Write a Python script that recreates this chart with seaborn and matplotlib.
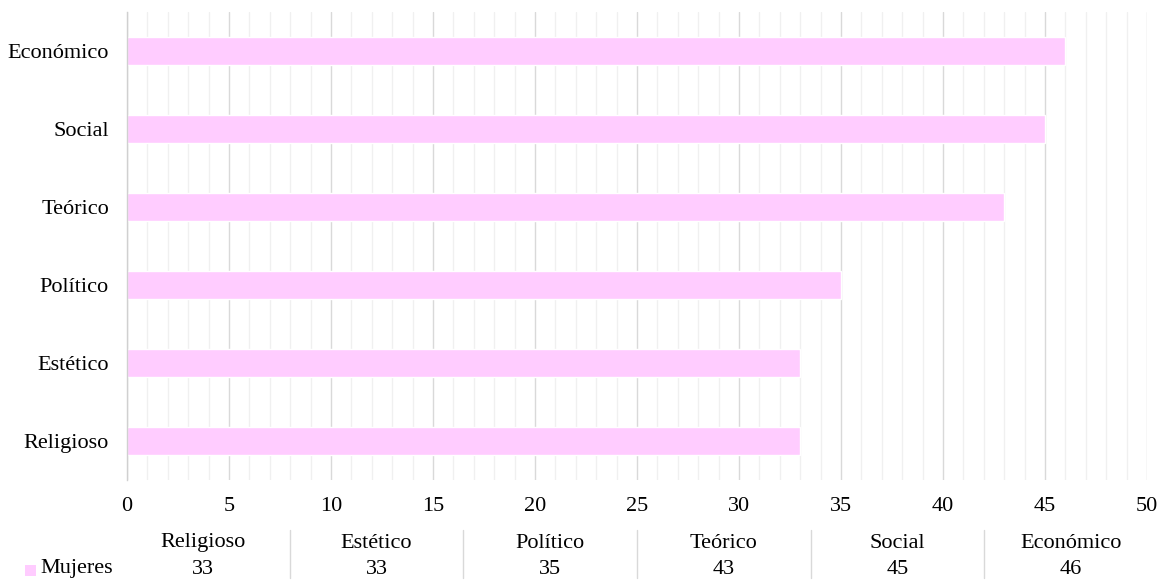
import matplotlib
matplotlib.use("Agg")
import matplotlib.pyplot as plt
import seaborn as sns
import pandas as pd
from matplotlib.lines import Line2D
from matplotlib.patches import Rectangle

categories = ["Religioso", "Estético", "Político", "Teórico", "Social", "Económico"]
mujeres = [33, 33, 35, 43, 45, 46]
series_name = "Mujeres"
x_ticks = [0, 5, 10, 15, 20, 25, 30, 35, 40, 45, 50]

sns.set_theme(style="white")
plt.rcParams["font.family"] = ["Liberation Serif", "DejaVu Serif"]
plt.rcParams["text.color"] = "black"

df = pd.DataFrame({"cat": categories, "val": mujeres})
color = "#FFCCFF"
FS = 16

fig = plt.figure(figsize=(11.63, 5.8), dpi=100)
ax = fig.add_axes([127/1163, 1-480/580, (1147-127)/1163, (480-12)/580])

sns.barplot(data=df, y="cat", x="val", order=categories[::-1], color=color,
            width=0.36, orient="h", ax=ax, saturation=1)

ax.set_xlim(0, 50)
ax.set_ylim(5.5, -0.5)
ax.set_xticks(x_ticks)
ax.set_xticks(range(0, 51), minor=True)
ax.grid(axis="x", which="major", color="#d9d9d9", linewidth=1.0)
ax.grid(axis="x", which="minor", color="#f0f0f0", linewidth=1.0)
ax.set_axisbelow(True)
ax.tick_params(axis="both", which="both", length=0, labelsize=FS, colors="black")
ax.tick_params(axis="x", pad=12)
ax.tick_params(axis="y", pad=13)
ax.set_xlabel("")
ax.set_ylabel("")
for s in ["top", "right", "bottom"]:
    ax.spines[s].set_visible(False)
ax.spines["left"].set_color("#d0d0d0")
ax.spines["left"].set_linewidth(1.0)

# data table below
W, H = 1163, 580
col_left = 116
col_w = (1158 - 116) / len(categories)
for i, (c, v) in enumerate(zip(categories, mujeres)):
    cx = col_left + col_w * (i + 0.5)
    fig.text(cx / W, 1 - 543 / H, c, ha="center", va="center", fontsize=FS, color="black")
    fig.text(cx / W, 1 - 569 / H, str(v), ha="center", va="center", fontsize=FS, color="black")
    if i > 0:
        xs = (col_left + col_w * i) / W
        fig.add_artist(Line2D([xs, xs], [1 - 530 / H, 1 - 578 / H], color="#d9d9d9", linewidth=1.0,
                              transform=fig.transFigure))
fig.add_artist(Rectangle((25 / W, 1 - 576 / H), 11 / W, 11 / H, facecolor=color, edgecolor="none",
                         transform=fig.transFigure))
fig.text(40 / W, 1 - 569 / H, series_name, ha="left", va="center", fontsize=FS, color="black")

fig.savefig("out.png", dpi=100)
